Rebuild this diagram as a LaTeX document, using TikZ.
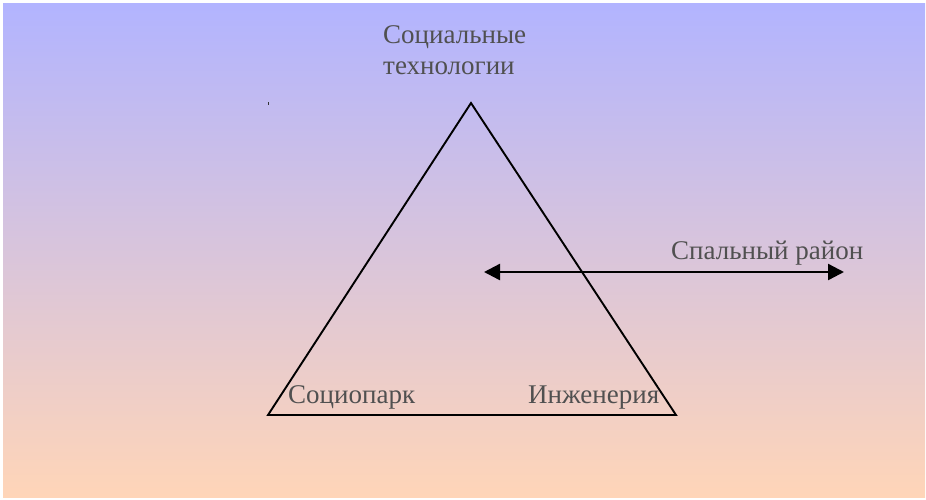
\documentclass[tikz,border=0pt]{standalone}
\usepackage{fontspec}
\setmainfont{Liberation Serif}
\usetikzlibrary{arrows.meta}
\definecolor{topc}{RGB}{178,180,255}
\definecolor{botc}{RGB}{255,213,184}
\definecolor{txtc}{RGB}{80,80,80}
\tikzset{
  lbl/.style={anchor=base west, inner sep=0pt, text=txtc, font=\fontsize{27}{31}\selectfont},
  edge/.style={draw=black, line width=1.9pt, line join=miter},
  dbl/.style={draw=black, line width=2.4pt, {Triangle[length=16pt,width=16pt]}-{Triangle[length=16pt,width=16pt]}}
}
\begin{document}
\begin{tikzpicture}[x=1pt,y=-1pt]
\useasboundingbox (0,0) rectangle (926,499);
\shade[top color=topc, bottom color=botc] (3,3) rectangle (925,497);
% tiny mark
\fill[black!80] (267.6,101.5) rectangle (268.6,104.5);
% triangle
\coordinate (A) at (471,103);
\coordinate (B) at (268,415);
\coordinate (C) at (676,415);
\draw[edge] (A) -- (B) -- (C) -- cycle;
% labels
\node[lbl] (t1) at (383,43) {Социальные};
\node[lbl] (t2) at (383,74) {технологии};
\node[lbl] (sp) at (288,403) {Социопарк};
\node[lbl] (in) at (528,403) {Инженерия};
\node[lbl] (sr) at (671,259) {Спальный район};
% arrow
\coordinate (L) at (484,272);
\coordinate (R) at (844,272);
\draw[dbl] (L) -- (R);
\end{tikzpicture}
\end{document}
